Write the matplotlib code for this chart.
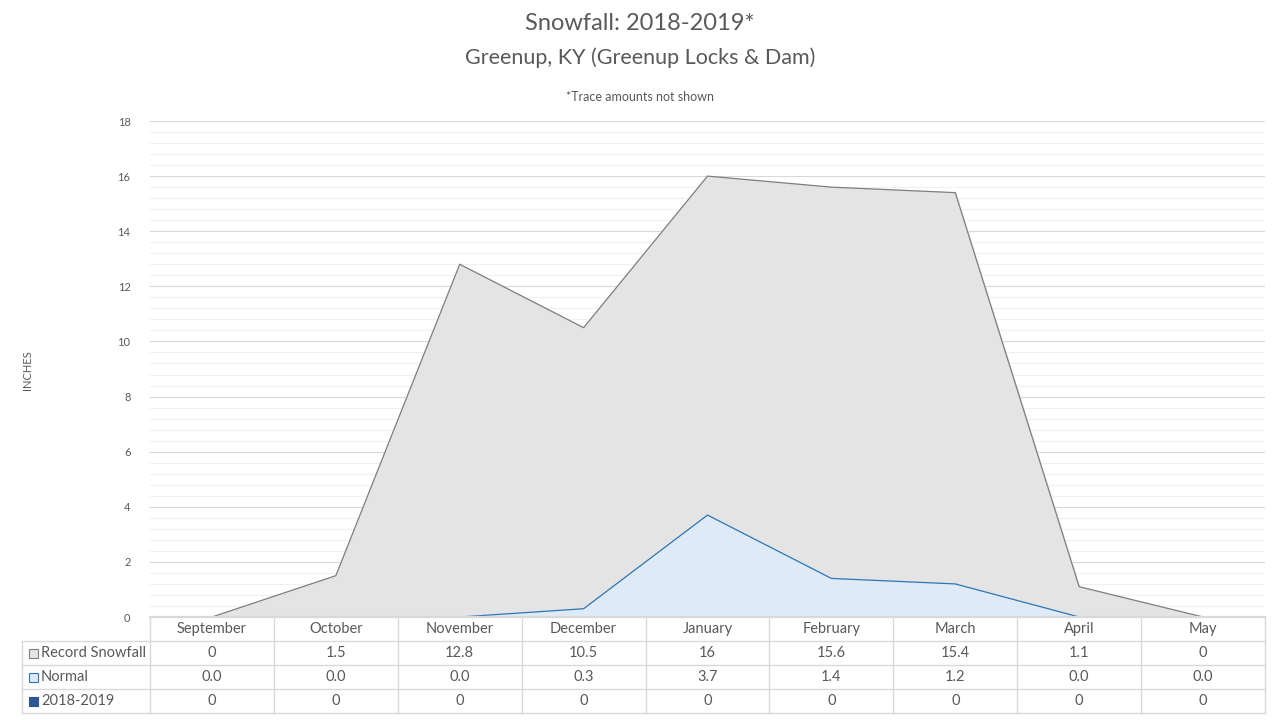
import matplotlib
matplotlib.use("Agg")
import matplotlib.pyplot as plt
from matplotlib.patches import Rectangle
import numpy as np

months = ["September", "October", "November", "December", "January",
          "February", "March", "April", "May"]
record = [0, 1.5, 12.8, 10.5, 16, 15.6, 15.4, 1.1, 0]
normal = [0.0, 0.0, 0.0, 0.3, 3.7, 1.4, 1.2, 0.0, 0.0]
season = [0, 0, 0, 0, 0, 0, 0, 0, 0]

series_names = ["Record Snowfall", "Normal", "2018-2019"]
series_text = [[str(v) for v in record],
               ["%.1f" % v for v in normal],
               [str(v) for v in season]]

plt.rcParams["font.family"] = ["Lato", "DejaVu Sans"]
txt = "#595959"
grid_major = "#d9d9d9"
grid_minor = "#f0f0f0"

fig = plt.figure(figsize=(12.8, 7.2), dpi=100)
W, H = 1280, 720
ax = fig.add_axes([150 / W, (720 - 617) / H, 1115 / W, 496 / H])

x = np.arange(len(months))
ax.fill_between(x, record, color="#e4e4e4", zorder=2)
ax.plot(x, record, color="#7f7f7f", lw=0.9, zorder=3)
ax.fill_between(x, normal, color="#deebf7", zorder=4)
ax.plot(x, normal, color="#2e75b6", lw=0.9, zorder=5)
ax.fill_between(x, season, color="#2f5597", zorder=6)

ax.set_xlim(-0.5, len(months) - 0.5)
ax.set_ylim(0, 18)
ax.set_yticks(np.arange(0, 19, 2))
ax.set_yticks(np.arange(0, 18.01, 0.4), minor=True)
ax.grid(axis="y", which="major", color=grid_major, lw=0.8, zorder=0)
ax.grid(axis="y", which="minor", color=grid_minor, lw=0.8, zorder=0)
ax.set_axisbelow(True)
ax.tick_params(axis="y", which="both", length=0, labelsize=8, labelcolor=txt, pad=14)
ax.tick_params(axis="x", length=0, labelbottom=False)
for s in ax.spines.values():
    s.set_visible(False)

fig.text(28 / W, 1 - 370 / H, "INCHES", rotation=90, fontsize=8, color=txt,
         ha="center", va="center")

# titles
fig.text(0.5, 1 - 24 / H, "Snowfall: 2018-2019*", fontsize=17, color=txt,
         ha="center", va="center")
fig.text(0.5, 1 - 58 / H, "Greenup, KY (Greenup Locks & Dam)", fontsize=15.5,
         color=txt, ha="center", va="center")
fig.text(0.5, 1 - 97 / H, "*Trace amounts not shown", fontsize=9, color=txt,
         ha="center", va="center")

# data table under the plot
tr = ax.get_xaxis_transform()
rh = 24 / 496
n = len(months)
left_lab = -0.5 - 128 / (1115 / n)
nrows = len(series_names) + 1
bottom = -rh * nrows
line_kw = dict(color=grid_major, lw=1.0, transform=tr, clip_on=False, zorder=10)

# horizontal lines
ax.plot([-0.5, n - 0.5], [0, 0], color=grid_major, lw=1.6, transform=tr,
        clip_on=False, zorder=10)
for r in range(1, nrows + 1):
    ax.plot([left_lab, n - 0.5], [-rh * r, -rh * r], **line_kw)
# vertical lines
for c in range(n + 1):
    ax.plot([c - 0.5, c - 0.5], [0, bottom], **line_kw)
ax.plot([left_lab, left_lab], [-rh, bottom], **line_kw)

for i, m in enumerate(months):
    ax.text(i, -rh * 0.5, m, transform=tr, ha="center", va="center",
            fontsize=10.5, color=txt, clip_on=False)

sw_face = ["#e4e4e4", "#deebf7", "#2f5597"]
sw_edge = ["#7f7f7f", "#2e75b6", "#2f5597"]
for r, name in enumerate(series_names):
    yc = -rh * (r + 1.5)
    fig_y = (720 - 617) / H + yc * 496 / H
    fig.patches.append(Rectangle((29 / W, fig_y - 5 / H), 9 / W, 9 / H,
                                 facecolor=sw_face[r], edgecolor=sw_edge[r],
                                 lw=0.8, transform=fig.transFigure))
    fig.text(41 / W, fig_y, name, fontsize=10.5, color=txt, ha="left", va="center")
    for i, val in enumerate(series_text[r]):
        ax.text(i, yc, val, transform=tr, ha="center", va="center",
                fontsize=10.5, color=txt, clip_on=False)

fig.savefig("out.png", dpi=100)
